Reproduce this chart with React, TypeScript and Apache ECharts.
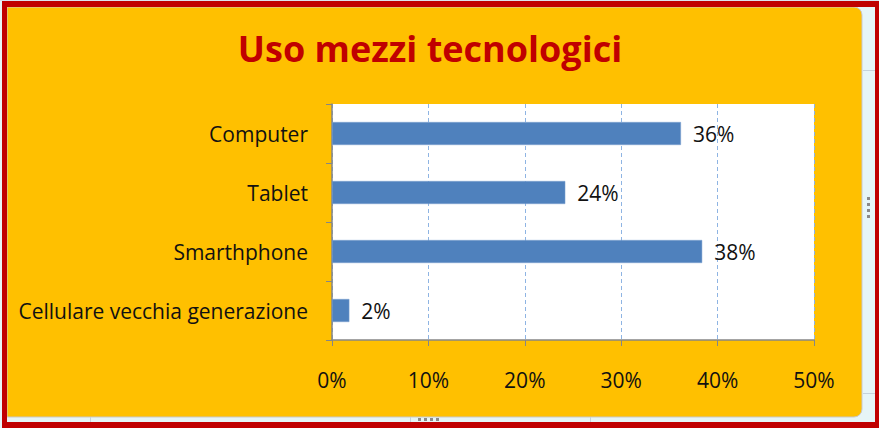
import React, { useEffect, useRef } from "react";
import * as echarts from "echarts";

const titleText = "Uso mezzi tecnologici";
const categories = ["Cellulare vecchia generazione", "Smarthphone", "Tablet", "Computer"];
const values = [1.8, 38.4, 24.2, 36.2];
const xMin = 0;
const xMax = 50;
const xStep = 10;

export default function App() {
  const ref = useRef<HTMLDivElement>(null);
  useEffect(() => {
    if (!ref.current) return;
    const chart = echarts.init(ref.current, null, { renderer: "svg" });
    const font = "Open Sans";
    const dots = (xs: number[], ys: number[]) =>
      xs.flatMap((x) => ys.map((y) => ({ type: "rect", z: -5, shape: { x, y, width: 3, height: 3 }, style: { fill: "#8A8A8A" } })));
    chart.setOption({
      animation: false,
      backgroundColor: "#E6F5F7",
      graphic: [
        { type: "rect", z: -10, shape: { x: 7, y: 7, width: 855, height: 410, r: [0, 8, 8, 0] }, style: { fill: "#FFC000", stroke: "#C9C9C9", lineWidth: 1 } },
        { type: "rect", z: 100, shape: { x: 0, y: 0, width: 879, height: 1 }, style: { fill: "#DCE3EE" } },
        { type: "rect", z: 100, shape: { x: 2, y: 1, width: 877, height: 6 }, style: { fill: "#C00000" } },
        { type: "rect", z: 100, shape: { x: 2, y: 1, width: 5, height: 427 }, style: { fill: "#C00000" } },
        { type: "rect", z: 100, shape: { x: 875, y: 1, width: 4, height: 427 }, style: { fill: "#C00000" } },
        { type: "rect", z: 100, shape: { x: 2, y: 422, width: 877, height: 6 }, style: { fill: "#C00000" } },
        { type: "rect", z: -5, shape: { x: 863, y: 70, width: 12, height: 1 }, style: { fill: "#C5D3DC" } },
        { type: "rect", z: -5, shape: { x: 863, y: 393, width: 12, height: 1 }, style: { fill: "#C5D3DC" } },
        { type: "rect", z: -5, shape: { x: 90, y: 417, width: 1, height: 5 }, style: { fill: "#C5D3DC" } },
        { type: "rect", z: -5, shape: { x: 410, y: 417, width: 1, height: 5 }, style: { fill: "#C5D3DC" } },
        { type: "rect", z: -5, shape: { x: 590, y: 417, width: 1, height: 5 }, style: { fill: "#C5D3DC" } },
        ...dots([867], [197, 203, 209, 215]),
        ...dots([418, 424, 430, 436], [418]),
      ],
      title: {
        text: titleText,
        left: 425,
        top: 25,
        textAlign: "center",
        textStyle: { fontFamily: font, fontWeight: "bold", fontSize: 36, color: "#C00000" },
      },
      grid: {
        left: 332,
        right: 65,
        top: 104,
        bottom: 88,
        show: true,
        backgroundColor: "#FFFFFF",
        borderWidth: 0,
      },
      xAxis: {
        type: "value",
        min: xMin,
        max: xMax,
        interval: xStep,
        axisLine: { show: true, lineStyle: { color: "#868686", width: 1.5 } },
        axisTick: { show: true, length: 6, lineStyle: { color: "#868686" } },
        axisLabel: { formatter: "{value}%", margin: 29, fontFamily: font, fontSize: 21, color: "#111" },
        splitLine: { show: true, lineStyle: { color: "#8EB4E3", type: [4, 3], width: 1 } },
      },
      yAxis: {
        type: "category",
        data: categories,
        axisLine: { show: true, lineStyle: { color: "#868686", width: 1.5 } },
        axisTick: { show: true, length: 6, lineStyle: { color: "#868686" } },
        axisLabel: { margin: 24, fontFamily: font, fontSize: 21, color: "#111" },
        splitLine: { show: false },
      },
      series: [
        {
          type: "bar",
          data: values,
          barWidth: 23,
          itemStyle: { color: "#4F81BD", borderColor: "#7FA3D0", borderWidth: 0.5 },
          label: {
            show: true,
            position: "right",
            distance: 12,
            formatter: (p: any) => Math.round(p.value) + "%",
            fontFamily: font,
            fontSize: 21,
            color: "#111",
          },
        },
      ],
    });
    return () => chart.dispose();
  }, []);
  return <div ref={ref} style={{ position: "fixed", left: 0, top: 0, width: 879, height: 428 }} />;
}
